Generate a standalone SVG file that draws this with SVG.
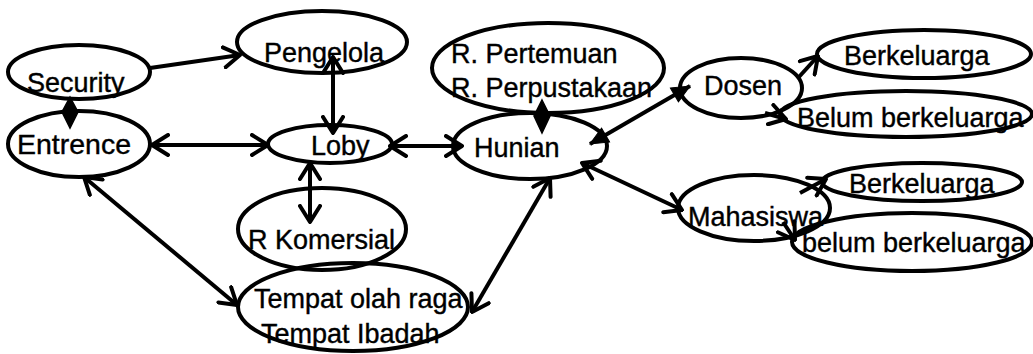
<svg xmlns="http://www.w3.org/2000/svg" width="1033" height="354" viewBox="0 0 1033 354">
<style>
.n ellipse{fill:none;stroke:#000;stroke-width:4}
.n text{font-family:"Liberation Sans",Arial,sans-serif;font-size:27px;fill:#000;stroke:#000;stroke-width:0.4}
#connectors line{stroke:#000;stroke-width:4;fill:none}
#connectors polygon{fill:#000;stroke:#000;stroke-width:1.5}
</style>
<defs>
<marker id="open" viewBox="0 0 20 24" refX="18" refY="12" markerWidth="20" markerHeight="24" markerUnits="userSpaceOnUse" orient="auto-start-reverse">
<path d="M2,2 L18,12 L2,22" fill="none" stroke="#000" stroke-width="4" stroke-linecap="round" stroke-linejoin="round"/>
</marker>
<marker id="fill" viewBox="0 0 20 20" refX="19" refY="10" markerWidth="20" markerHeight="20" markerUnits="userSpaceOnUse" orient="auto-start-reverse">
<path d="M1,2 L19,10 L1,18 Z" fill="#000" stroke="#000" stroke-width="1"/>
</marker>
</defs>
<rect width="1033" height="354" fill="#fff"/>
<g id="connectors">
<line x1="150" y1="68" x2="240" y2="55" marker-end="url(#open)"/>
<polygon points="70,97 78,112 70,128 62,112"/>
<line x1="152" y1="145" x2="268" y2="145" marker-start="url(#open)" marker-end="url(#open)"/>
<line x1="333" y1="57" x2="333" y2="133" marker-start="url(#open)" marker-end="url(#open)"/>
<line x1="310" y1="163" x2="310" y2="222" marker-start="url(#open)" marker-end="url(#open)"/>
<line x1="390" y1="146" x2="462" y2="146" marker-start="url(#open)" marker-end="url(#open)"/>
<polygon points="542,100 550,116 542,133 534,116"/>
<line x1="590" y1="144" x2="690" y2="86" marker-start="url(#fill)" marker-end="url(#fill)"/>
<line x1="582" y1="163" x2="682" y2="210" marker-start="url(#open)" marker-end="url(#open)"/>
<line x1="798" y1="78" x2="818" y2="56" marker-end="url(#open)"/>
<line x1="765" y1="113" x2="786" y2="119" marker-end="url(#open)"/>
<line x1="800" y1="193" x2="826" y2="179" marker-end="url(#open)"/>
<line x1="783" y1="222" x2="795" y2="240" marker-end="url(#open)"/>
<line x1="84" y1="177" x2="237" y2="305" marker-start="url(#open)" marker-end="url(#open)"/>
<line x1="550" y1="178" x2="472" y2="312" marker-start="url(#open)" marker-end="url(#open)"/>
</g>
<g id="security" class="n"><ellipse cx="79" cy="72" rx="71" ry="27"/><text x="27" y="92">Security</text></g>
<g id="entrence" class="n"><ellipse cx="79" cy="144" rx="71" ry="33"/><text x="17" y="154" style="font-size:28.5px">Entrence</text></g>
<g id="pengelola" class="n"><ellipse cx="322" cy="42" rx="85" ry="31"/><text x="264" y="62">Pengelola</text></g>
<g id="loby" class="n"><ellipse cx="330" cy="144" rx="62" ry="19"/><text x="311" y="155">Loby</text></g>
<g id="rkomersial" class="n"><ellipse cx="322" cy="229" rx="84" ry="41"/><text x="248" y="249">R Komersial</text></g>
<g id="tempat" class="n"><ellipse cx="353" cy="307" rx="115" ry="44"/><text x="254" y="308">Tempat olah raga</text><text x="261" y="343">Tempat Ibadah</text></g>
<g id="hunian" class="n"><ellipse cx="530" cy="146" rx="77" ry="33"/><text x="474" y="157">Hunian</text></g>
<g id="rpertemuan" class="n"><ellipse cx="548" cy="68" rx="116" ry="45"/><text x="451" y="63">R. Pertemuan</text><text x="451" y="97">R. Perpustakaan</text></g>
<g id="dosen" class="n"><ellipse cx="741" cy="88" rx="61" ry="30"/><text x="704" y="95">Dosen</text></g>
<g id="berkeluarga1" class="n"><ellipse cx="924" cy="54" rx="107" ry="24"/><text x="844" y="65">Berkeluarga</text></g>
<g id="belum1" class="n"><ellipse cx="906" cy="114" rx="126" ry="23"/><text x="797" y="127">Belum berkeluarga</text></g>
<g id="mahasiswa" class="n"><ellipse cx="754" cy="208" rx="76" ry="33"/><text x="688" y="226">Mahasiswa</text></g>
<g id="berkeluarga2" class="n"><ellipse cx="922" cy="182" rx="100" ry="19"/><text x="849" y="193">Berkeluarga</text></g>
<g id="belum2" class="n"><ellipse cx="912" cy="242" rx="120" ry="29"/><text x="802" y="252">belum berkeluarga</text></g>
</svg>
